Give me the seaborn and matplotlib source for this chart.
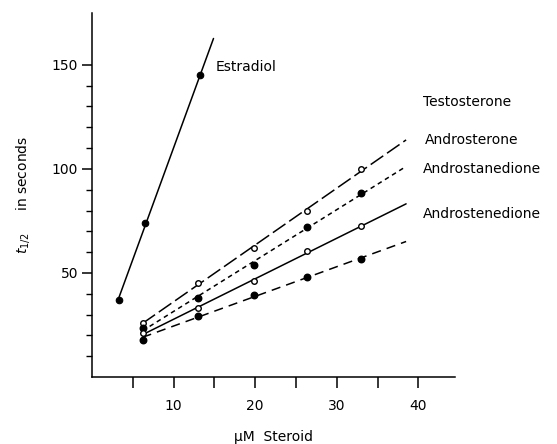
import numpy as np
import pandas as pd
import matplotlib
matplotlib.use("Agg")
import matplotlib.pyplot as plt
import seaborn as sns

# data (uM steroid vs half-time in seconds)
estradiol_x = [3.3, 6.5, 13.3]
estradiol_y = [37, 74, 145]

conc = [6.2, 13.0, 19.9, 26.4, 33.0]
testosterone = [26, 45, 62, 80, 100]
androsterone = [23.5, 38, 54, 72, 88.5]
androstanedione = [21, 33, 46, 60.5, 72.5]
androstenedione = [18, 29.5, 39.5, 48, 56.5]

# extent of each fitted line
estradiol_fit = [3.3, 14.9]
fit_range = [6.2, 38.5]

sns.set_style("ticks")
plt.rcParams['font.family'] = ['DejaVu Sans']
for key in ["text.color", "axes.labelcolor", "xtick.color", "ytick.color", "axes.edgecolor"]:
    plt.rcParams[key] = "black"

fig = plt.figure(figsize=(5.57, 4.44), dpi=100)
ax = fig.add_axes([0.165, 0.151, 0.652, 0.820])

series = [
    ("Testosterone", testosterone, False, (0, (10, 3))),
    ("Androsterone", androsterone, True, (0, (3, 2.5))),
    ("Androstanedione", androstanedione, False, "-"),
    ("Androstenedione", androstenedione, True, (0, (6, 4))),
]

# estradiol
k, b = np.polyfit(estradiol_x, estradiol_y, 1)
xs = np.array(estradiol_fit)
ax.plot(xs, k * xs + b, color="black", lw=1.1)
sns.scatterplot(x=estradiol_x, y=estradiol_y, ax=ax, color="black",
                s=22, edgecolor="black", linewidth=0.8, zorder=3)

for name, vals, filled, ls in series:
    k, b = np.polyfit(conc, vals, 1)
    xs = np.array(fit_range)
    ax.plot(xs, k * xs + b, color="black", lw=1.1, linestyle=ls)
    df = pd.DataFrame({"x": conc, "y": vals})
    sns.scatterplot(data=df, x="x", y="y", ax=ax,
                    color="black" if filled else "white",
                    edgecolor="black", linewidth=1.0,
                    s=22 if filled else 16, zorder=3)

# labels next to curves
ax.text(15.2, 149, "Estradiol", fontsize=10, va="center", ha="left")
ax.text(40.6, 132, "Testosterone", fontsize=10, va="center", ha="left")
ax.text(40.8, 114, "Androsterone", fontsize=10, va="center", ha="left")
ax.text(40.6, 100, "Androstanedione", fontsize=10, va="center", ha="left")
ax.text(40.6, 78.5, "Androstenedione", fontsize=10, va="center", ha="left")

ax.set_xlim(0, 44.5)
ax.set_ylim(0, 175)
ax.set_xticks([10, 20, 30, 40])
ax.set_xticks([5, 15, 25, 35], minor=True)
ax.set_yticks([50, 100, 150])
ax.set_yticks([10, 20, 30, 40, 60, 70, 80, 90, 110, 120, 130, 140], minor=True)
ax.tick_params(axis="x", which="both", direction="out", length=8, width=1.1,
               labelsize=10, pad=8)
ax.tick_params(axis="y", which="major", direction="out", length=7, width=1.1,
               labelsize=10, pad=3)
ax.tick_params(axis="y", which="minor", direction="out", length=4, width=1.0)

ax.set_xlabel("μM  Steroid", fontsize=10, labelpad=12)
ax.set_ylabel(r"$t_{1/2}$     in seconds", fontsize=10, labelpad=14)

sns.despine(ax=ax)
for sp in ax.spines.values():
    sp.set_linewidth(1.1)

fig.savefig("out.png", dpi=100)
